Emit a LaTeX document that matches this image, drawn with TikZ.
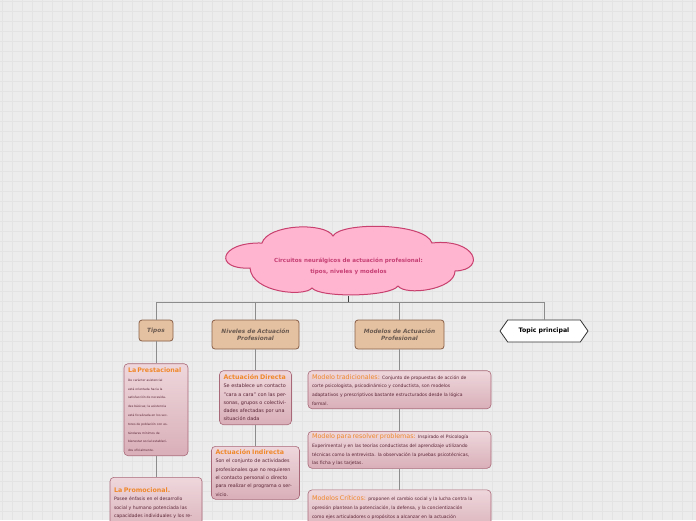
\documentclass[tikz,border=0pt]{standalone}
\usepackage{fontspec}
\setmainfont{DejaVu Sans}
\usetikzlibrary{shapes.symbols, positioning}

\definecolor{bgcol}{HTML}{ECECEC}
\definecolor{gridcol}{HTML}{E3E3E3}
\definecolor{cloudfill}{HTML}{FFB5D0}
\definecolor{clouddraw}{HTML}{C8406E}
\definecolor{cloudtext}{HTML}{C63F74}
\definecolor{tanfill}{HTML}{E4C1A1}
\definecolor{tandraw}{HTML}{8A6048}
\definecolor{tantext}{HTML}{6B5A50}
\definecolor{leaftop}{HTML}{EED7DC}
\definecolor{leafbot}{HTML}{D9AFB9}
\definecolor{leafdraw}{HTML}{A86878}
\definecolor{orng}{HTML}{F0882A}
\definecolor{bodytxt}{HTML}{5A2535}
\definecolor{linecol}{HTML}{8C8C8C}

\newcommand{\ttl}[1]{{\fontsize{6.3}{8}\selectfont\bfseries\color{orng}#1}}
\newcommand{\mttl}[1]{{\fontsize{6.4}{8}\selectfont\color{orng}#1}}

\tikzset{
  hdr/.style={draw=tandraw, fill=tanfill, rounded corners=3pt, line width=0.8pt,
    font=\fontsize{5.8}{7.4}\selectfont\bfseries\itshape, text=tantext, align=center},
  leaf/.style={draw=leafdraw, top color=leaftop, bottom color=leafbot, rounded corners=4pt,
    line width=0.6pt, align=left, inner xsep=4pt, inner ysep=2.5pt, text=bodytxt},
  link/.style={draw=linecol, line width=0.9pt}
}

\begin{document}
\begin{tikzpicture}[x=1pt, y=-1pt]
    \useasboundingbox (0,0) rectangle (696,520);
    \clip (0,0) rectangle (696,520);
    \fill[bgcol] (0,0) rectangle (696,520);
    \foreach \g in {2,12,...,692}
        \draw[gridcol, line width=0.6pt] (\g,0) -- (\g,520);
    \foreach \g in {1,11,...,511}
        \draw[gridcol, line width=0.6pt] (0,\g) -- (696,\g);

    % main topic (cloud outline drawn by hand)
    \filldraw[draw=clouddraw, fill=cloudfill, line width=1pt]
        (262,243) .. controls (268,224) and (325,222) .. (333,236)
        .. controls (340,222) and (425,222) .. (432,243)
        .. controls (476,238) and (487,270) .. (455,271)
        .. controls (455,290) and (405,296) .. (398,286)
        .. controls (390,297) and (320,298) .. (312,288)
        .. controls (305,297) and (252,293) .. (250,268)
        .. controls (214,270) and (218,242) .. cycle;
    \node[minimum width=240pt, minimum height=60pt, inner sep=0pt, text=cloudtext,
          font=\fontsize{5.6}{11}\selectfont\bfseries, align=center]
        (cloud) at (348.5,266)
        {Circuitos neurálgicos de actuación profesional:\\tipos, niveles y modelos};
    \coordinate (hub) at (348.5,302);

    % headers
    \node[hdr, minimum width=34pt, minimum height=21pt] (tipos) at (156,330.5) {Tipos};
    \node[hdr, minimum width=87pt, minimum height=29pt] (niveles) at (255.5,334.5)
        {Niveles de Actuación\\Profesional};
    \node[hdr, minimum width=89pt, minimum height=29pt] (modelos) at (399.5,334.5)
        {Modelos de Actuación\\Profesional};
    \node[signal, signal to=west and east, signal pointer angle=110, draw=black!80,
          fill=white, line width=0.8pt, minimum width=88pt, minimum height=22pt,
          font=\fontsize{6.2}{7}\selectfont\bfseries] (topic) at (544,331) {Topic principal};

    % tipos
    \node[leaf, text width=56pt, minimum height=92pt, font=\fontsize{3}{8.8}\selectfont]
        (prest) [below=22pt of tipos]
        {\ttl{La Prestacional}\\De carácter asistencial\\está orientada hacia la\\satisfacción de necesida-\\des básicas; la asistencia\\está focalizada en los sec-\\tores de población con es-\\tándares mínimos de\\bienestar social estableci-\\dos oficialmente.};
    \node[leaf, text width=84pt, minimum height=60pt, anchor=north,
          font=\fontsize{4.6}{8.4}\selectfont]
        (promo) [below=21pt of prest]
        {\ttl{La Promocional.}\\Posee énfasis en el desarrollo\\social y humano potenciada las\\capacidades individuales y los re-\\cursos colectivos para mejorar o\\[14pt]};

    % niveles
    \node[leaf, text width=64pt, minimum height=54pt, font=\fontsize{4.9}{8.3}\selectfont]
        (direct) [below=21pt of niveles]
        {\ttl{Actuación Directa}\\Se establece un contacto\\"cara a cara" con las per-\\sonas, grupos o colectivi-\\dades afectadas por una\\situación dada};
    \node[leaf, text width=80pt, minimum height=53pt, font=\fontsize{4.8}{8.3}\selectfont]
        (indir) [below=21pt of direct]
        {\ttl{Actuación Indirecta}\\Son el conjunto de actividades\\profesionales que no requieren\\el contacto personal o directo\\para realizar el programa o ser-\\vicio.};

    % modelos
    \node[leaf, text width=175pt, minimum height=38pt, font=\fontsize{4.5}{8.7}\selectfont]
        (trad) [below=21pt of modelos]
        {\mttl{Modelo tradicionales:} Conjunto de propuestas de acción de\\corte psicologista, psicodinámico y conductista, son modelos\\adaptativos y prescriptivos bastante estructurados desde la lógica\\formal.};
    \node[leaf, text width=175pt, minimum height=37pt, font=\fontsize{4.5}{8.7}\selectfont]
        (resol) [below=22pt of trad]
        {\mttl{Modelo para resolver problemas:} Inspirado el Psicología\\Experimental y en las teorías conductistas del aprendizaje utilizando\\técnicas como la entrevista. la observación la pruebas psicotécnicas,\\las ficha y las tarjetas.};
    \node[leaf, text width=175pt, minimum height=44pt, font=\fontsize{4.5}{8.7}\selectfont]
        (crit) [below=21pt of resol]
        {\mttl{Modelos Críticos:} proponen el cambio social y la lucha contra la\\opresión plantean la potenciación, la defensa, y la concientización\\como ejes articuladores o propósitos a alcanzar en la actuación\\profesional.};

    % connectors
    \draw[draw=black!75, line width=1.1pt] (cloud.south) -- (hub);
    \draw[link] (hub) -| (tipos.north);
    \draw[link] (hub) -| (niveles.north);
    \draw[link] (hub) -| (modelos.north);
    \draw[link] (hub) -| (topic.north);
    \path[link]
    (tipos) edge (prest)
        (prest) edge (promo)
    (niveles) edge (direct)
        (direct) edge (indir)
    (modelos) edge (trad)
        (trad) edge (resol)
        (resol) edge (crit);
\end{tikzpicture}
\end{document}
